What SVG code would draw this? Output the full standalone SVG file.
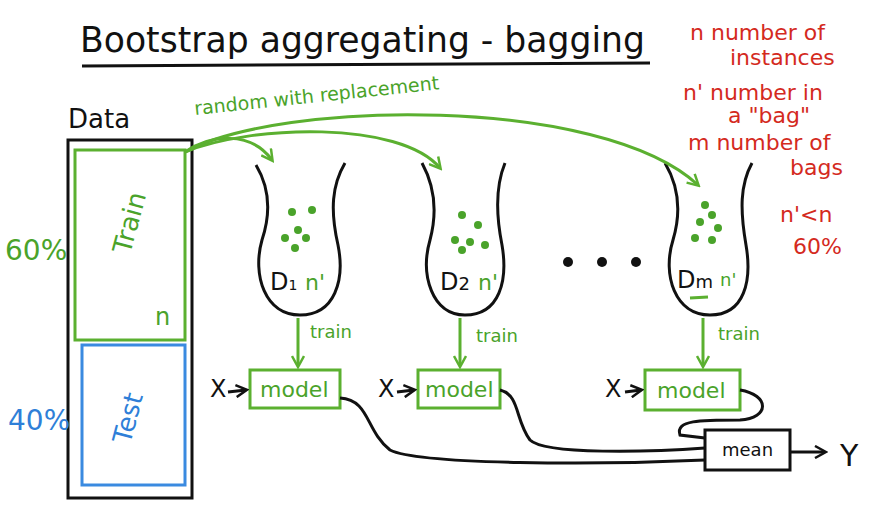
<svg xmlns="http://www.w3.org/2000/svg" width="895" height="514" viewBox="0 0 895 514">
<style>
text{font-family:"Comic Sans MS","DejaVu Sans",sans-serif}
.g{fill:#4aa32a}.r{fill:#d42a1e}.k{fill:#111}.b{fill:#2f7fd8}
.sg{stroke:#5bb030;fill:none;stroke-width:3}
.sk{stroke:#111;fill:none;stroke-width:3}
.sb{stroke:#3a8ae0;fill:none;stroke-width:3}
</style>
<defs>
<marker id="ag" markerUnits="userSpaceOnUse" markerWidth="14" markerHeight="14" refX="11" refY="7" orient="auto"><path d="M1,1 L12,7 L1,13" fill="none" stroke="#5bb030" stroke-width="2.5"/></marker>
<marker id="ak" markerUnits="userSpaceOnUse" markerWidth="14" markerHeight="14" refX="11" refY="7" orient="auto"><path d="M1,1 L12,7 L1,13" fill="none" stroke="#111" stroke-width="2.5"/></marker>
</defs>
<rect width="895" height="514" fill="#fff"/>
<g id="title">
<text x="80" y="52" font-size="36" class="k" textLength="565" lengthAdjust="spacingAndGlyphs">Bootstrap aggregating - bagging</text>
<path d="M82,66 L650,63" class="sk"/>
</g>
<g id="legend" font-size="22">
<text x="690" y="40" class="r">n  number of</text>
<text x="730" y="65" class="r">instances</text>
<text x="683" y="100" class="r">n'  number in</text>
<text x="728" y="123" class="r">a "bag"</text>
<text x="688" y="150" class="r">m  number of</text>
<text x="790" y="175" class="r">bags</text>
<text x="780" y="222" class="r">n'&lt;n</text>
<text x="793" y="254" class="r">60%</text>
</g>
<g id="data">
<text x="68" y="128" font-size="26" class="k">Data</text>
<rect x="68" y="140" width="124" height="358" class="sk"/>
<rect x="75" y="150" width="110" height="190" class="sg"/>
<rect x="82" y="345" width="103" height="140" class="sb"/>
<text x="5" y="260" font-size="28" class="g">60%</text>
<text x="8" y="430" font-size="28" class="b">40%</text>
<text x="0" y="0" font-size="26" class="g" transform="translate(130,255) rotate(-75)">Train</text>
<text x="155" y="325" font-size="24" class="g">n</text>
<text x="0" y="0" font-size="26" class="b" transform="translate(130,445) rotate(-75)">Test</text>
</g>
<text x="195" y="115" font-size="19" class="g" transform="rotate(-6 195 115)">random with replacement</text>
<g id="bag1">
<path d="M256,165 C268,185 272,210 262,240 C252,275 265,315 300,315 C335,315 345,280 338,245 C330,210 332,185 345,163" class="sk"/>
<g class="g"><circle cx="292" cy="212" r="4"/><circle cx="312" cy="210" r="4"/><circle cx="298" cy="230" r="4"/><circle cx="285" cy="238" r="4"/><circle cx="306" cy="238" r="4"/><circle cx="295" cy="248" r="4"/></g>
<text x="270" y="290" font-size="24" class="k">D<tspan font-size="14">1</tspan></text>
<text x="305" y="290" font-size="22" class="g">n'</text>
</g>
<g id="bag2">
<path d="M422,163 C434,185 438,210 430,240 C420,275 432,315 465,315 C500,315 508,280 502,245 C495,210 496,185 505,163" class="sk"/>
<g class="g"><circle cx="462" cy="215" r="4"/><circle cx="478" cy="225" r="4"/><circle cx="455" cy="240" r="4"/><circle cx="470" cy="242" r="4"/><circle cx="485" cy="245" r="4"/><circle cx="462" cy="250" r="4"/></g>
<text x="440" y="290" font-size="24" class="k">D<tspan font-size="18">2</tspan></text>
<text x="478" y="290" font-size="22" class="g">n'</text>
</g>
<g id="dots" class="k"><circle cx="568" cy="262" r="5"/><circle cx="602" cy="262" r="5"/><circle cx="636" cy="262" r="5"/></g>
<g id="bagm">
<path d="M665,163 C678,185 682,210 673,240 C662,275 675,315 710,315 C745,315 752,280 746,245 C740,210 740,185 752,163" class="sk"/>
<g class="g"><circle cx="705" cy="205" r="4"/><circle cx="712" cy="215" r="4"/><circle cx="700" cy="222" r="4"/><circle cx="718" cy="228" r="4"/><circle cx="695" cy="238" r="4"/><circle cx="712" cy="240" r="4"/></g>
<text x="677" y="288" font-size="24" class="k">D<tspan font-size="18">m</tspan></text>
<path d="M690,298 L708,297" class="sg" stroke-width="2"/>
<text x="720" y="286" font-size="18" class="g">n'</text>
</g>
<g id="model1"><rect x="250" y="370" width="90" height="38" class="sg"/><text x="260" y="397" font-size="22" class="g">model</text><text x="210" y="397" font-size="24" class="k">X</text></g>
<g id="model2"><rect x="418" y="370" width="82" height="38" class="sg"/><text x="425" y="397" font-size="22" class="g">model</text><text x="378" y="397" font-size="24" class="k">X</text></g>
<g id="modelm"><rect x="645" y="370" width="95" height="40" class="sg"/><text x="657" y="398" font-size="22" class="g">model</text><text x="605" y="397" font-size="24" class="k">X</text></g>
<g id="mean"><rect x="705" y="430" width="85" height="40" class="sk"/><text x="722" y="456" font-size="18" class="k">mean</text><text x="840" y="466" font-size="30" class="k">Y</text></g>
<g id="connectors">
<path d="M185,152 C210,135 250,130 272,160" class="sg" stroke-width="2" marker-end="url(#ag)"/>
<path d="M185,152 C250,125 400,120 440,168" class="sg" stroke-width="2" marker-end="url(#ag)"/>
<path d="M185,152 C280,100 600,95 698,185" class="sg" stroke-width="2" marker-end="url(#ag)"/>
<path d="M298,318 L298,366" class="sg" marker-end="url(#ag)"/>
<path d="M460,318 L460,366" class="sg" marker-end="url(#ag)"/>
<path d="M703,318 L703,366" class="sg" marker-end="url(#ag)"/>
<text x="310" y="338" font-size="18" class="g">train</text>
<text x="476" y="342" font-size="18" class="g">train</text>
<text x="718" y="340" font-size="18" class="g">train</text>
<path d="M228,392 L246,390" class="sk" stroke-width="2" marker-end="url(#ak)"/>
<path d="M397,392 L414,390" class="sk" stroke-width="2" marker-end="url(#ak)"/>
<path d="M625,392 L641,390" class="sk" stroke-width="2" marker-end="url(#ak)"/>
<path d="M790,452 L825,452" class="sk" stroke-width="2" marker-end="url(#ak)"/>
<path d="M340,398 C370,400 365,430 390,450 C420,465 600,465 705,460" class="sk" stroke-width="2"/>
<path d="M500,390 C520,395 515,420 530,440 C545,455 650,452 705,448" class="sk" stroke-width="2"/>
<path d="M740,390 C770,395 770,418 740,420 C700,420 675,420 680,435 L705,438" class="sk" stroke-width="2"/>
</g>
</svg>
